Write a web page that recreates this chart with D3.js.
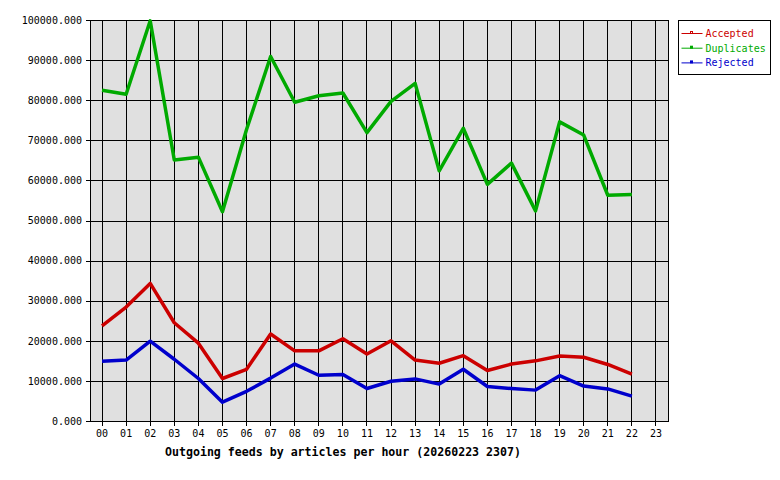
<!DOCTYPE html>
<html>
<head>
<meta charset="utf-8">
<script src="https://cdn.jsdelivr.net/npm/d3@7"></script>
<style>
  body { margin: 0; background: #fff; }
  text { font-family: "DejaVu Sans Mono", "Liberation Mono", monospace; }
</style>
</head>
<body>
<div id="svganchor"></div>
<script>
let width = 780, height = 480;

let margin = ({top: 20, right: 112, bottom: 59, left: 90});

// hours of the day, values per hour
let hours = d3.range(24).map(function(h) { return (h < 10 ? "0" : "") + h; });

let accepted = [23700, 28400, 34300, 24500, 19400, 10600, 12900, 21700, 17500, 17500,
                20500, 16700, 20000, 15200, 14400, 16300, 12600, 14200, 15000, 16200,
                15900, 14100, 11700];
let duplicates = [82500, 81500, 99800, 65100, 65800, 52200, 72700, 90900, 79500, 81100,
                  81800, 71900, 79700, 84200, 62400, 73000, 59000, 64300, 52400, 74600,
                  71300, 56300, 56500];
let rejected = [14900, 15200, 19900, 15400, 10600, 4700, 7400, 10700, 14200, 11400,
                11600, 8100, 9900, 10500, 9200, 12900, 8600, 8100, 7700, 11300,
                8700, 8000, 6200];

let yTicks = d3.range(0, 100001, 10000);

let seriesNames = ["Accepted", "Duplicates", "Rejected"];
let seriesColors = ["#cc0000", "#00aa00", "#0000cc"];
let seriesData = [accepted, duplicates, rejected];

let svg = d3.select("#svganchor")
    .append("svg")
    .attr("width", width)
    .attr("height", height);

let xScale = d3.scaleBand()
    .domain(hours)
    .range([margin.left, width - margin.right]);

let yScale = d3.scaleLinear()
    .domain([0, 100000])
    .range([height - margin.bottom, margin.top]);

let x = function(i) { return xScale(hours[i]) + xScale.bandwidth() / 2; };

// plot background
svg.append("rect")
    .attr("x", margin.left)
    .attr("y", margin.top)
    .attr("width", width - margin.left - margin.right)
    .attr("height", height - margin.top - margin.bottom)
    .attr("fill", "#e0e0e0");

let formatY = d3.format(".3f");

let yAxis = d3.axisLeft(yScale)
    .tickValues(yTicks)
    .tickFormat(formatY)
    .tickSizeInner(-(width - margin.left - margin.right))
    .tickSizeOuter(0)
    .tickPadding(8);

let gY = svg.append("g")
    .attr("class", "y axis")
    .attr("transform", "translate(" + margin.left + ",0)")
    .call(yAxis);

gY.select(".domain").remove();
gY.selectAll(".tick line")
    .attr("x1", -4)
    .attr("stroke", "#000")
    .attr("shape-rendering", "crispEdges");
gY.selectAll(".tick text")
    .attr("font-size", 10)
    .attr("fill", "#000");

let xAxis = d3.axisBottom(xScale)
    .tickSizeInner(-(height - margin.top - margin.bottom))
    .tickSizeOuter(0)
    .tickPadding(9);

let gX = svg.append("g")
    .attr("class", "x axis")
    .attr("transform", "translate(0," + (height - margin.bottom) + ")")
    .call(xAxis);

gX.select(".domain").remove();
gX.selectAll(".tick line")
    .attr("y1", 5)
    .attr("stroke", "#000")
    .attr("shape-rendering", "crispEdges");
gX.selectAll(".tick text")
    .attr("font-size", 10)
    .attr("fill", "#000");

// plot frame
svg.append("rect")
    .attr("x", margin.left)
    .attr("y", margin.top)
    .attr("width", width - margin.left - margin.right)
    .attr("height", height - margin.top - margin.bottom)
    .attr("fill", "none")
    .attr("stroke", "#000")
    .attr("shape-rendering", "crispEdges");

let line = d3.line()
    .x(function(d, i) { return x(i); })
    .y(function(d) { return yScale(d); });

// draw order: duplicates, accepted, rejected
[1, 0, 2].forEach(function(k) {
    svg.append("path")
        .datum(seriesData[k])
        .attr("d", line)
        .attr("fill", "none")
        .attr("stroke", seriesColors[k])
        .attr("stroke-width", 3.5)
        .attr("stroke-linejoin", "round");
});

let xTitle = svg.append("text")
    .attr("text-anchor", "middle")
    .attr("x", 343)
    .attr("y", 456)
    .attr("font-size", 11.6)
    .attr("font-weight", "bold")
    .attr("fill", "#000")
    .text("Outgoing feeds by articles per hour (20260223 2307)");

// legend
let legend = svg.append("g").attr("transform", "translate(678.5,20.5)");

legend.append("rect")
    .attr("width", 92)
    .attr("height", 54)
    .attr("fill", "#fff")
    .attr("stroke", "#000");

seriesNames.forEach(function(name, i) {
    let yy = 13 + i * 14.7;
    legend.append("line")
        .attr("x1", 3)
        .attr("x2", 24)
        .attr("y1", yy)
        .attr("y2", yy)
        .attr("stroke", seriesColors[i]);
    legend.append("rect")
        .attr("x", 12)
        .attr("y", yy - 2)
        .attr("width", 2)
        .attr("height", 2)
        .attr("fill", "none")
        .attr("stroke", seriesColors[i]);
    legend.append("text")
        .attr("x", 27)
        .attr("y", yy + 3.5)
        .attr("font-size", 10)
        .attr("fill", seriesColors[i])
        .text(name);
});
</script>
</body>
</html>
